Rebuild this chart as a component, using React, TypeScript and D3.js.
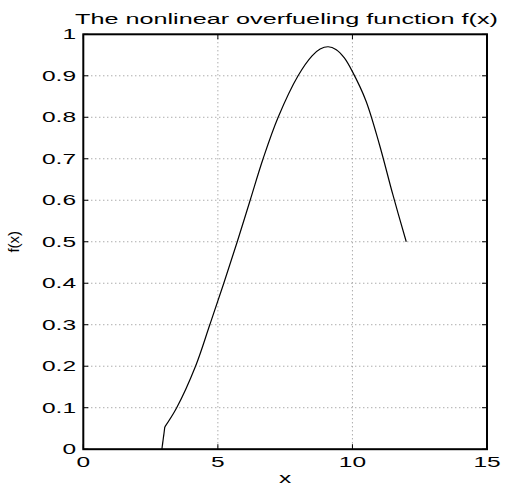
import React from "react";
import * as d3 from "d3";

const xValues = [2.92, 3.03, 3.47, 4.17, 4.7, 5.22, 5.72, 6.2, 6.68, 7.24, 7.98, 8.5, 8.8, 9.1, 9.4, 9.7, 10.0, 10.5, 11.0, 11.5, 12.0];
const fValues = [0, 0.054, 0.1, 0.2, 0.3, 0.4, 0.5, 0.6, 0.7, 0.8, 0.9, 0.948, 0.9645, 0.97, 0.963, 0.943, 0.91, 0.84, 0.735, 0.614, 0.5];
const xTicks = [0, 5, 10, 15];
const yTicks = [0, 0.1, 0.2, 0.3, 0.4, 0.5, 0.6, 0.7, 0.8, 0.9, 1];
const yTickLabels = ["0", "0.1", "0.2", "0.3", "0.4", "0.5", "0.6", "0.7", "0.8", "0.9", "1"];
const title = "The nonlinear overfueling function f(x)";
const xLabel = "x";
const yLabel = "f(x)";

const W = 506;
const H = 489;
const L = 83.3;
const R = 487;
const T = 34.3;
const B = 449.2;
const FONT = "'Liberation Sans', Arial, Helvetica, sans-serif";
const SX = 1.75;

export default function App() {
  const x = d3.scaleLinear().domain([0, 15]).range([L, R]);
  const y = d3.scaleLinear().domain([0, 1]).range([B, T]);
  const pts = xValues.map((v, i) => [v, fValues[i]] as [number, number]);
  const lineLin = d3.line<[number, number]>().x((d) => x(d[0])).y((d) => y(d[1]));
  const lineSmooth = d3
    .line<[number, number]>()
    .x((d) => x(d[0]))
    .y((d) => y(d[1]))
    .curve(d3.curveCatmullRom.alpha(0.5));
  const tickLen = 5;

  return (
    <svg
      width={W}
      height={H}
      style={{ position: "absolute", left: 0, top: 0, display: "block", background: "#fff" }}
    >
      <rect x={0} y={0} width={W} height={H} fill="#fff" />
      {xTicks
        .filter((t) => t > 0 && t < 15)
        .map((t) => (
          <line
            key={"gx" + t}
            x1={x(t)}
            x2={x(t)}
            y1={T}
            y2={B}
            stroke="#888"
            strokeWidth={1}
            strokeDasharray="1 3"
          />
        ))}
      {yTicks
        .filter((t) => t > 0 && t < 1)
        .map((t) => (
          <line
            key={"gy" + t}
            x1={L}
            x2={R}
            y1={y(t)}
            y2={y(t)}
            stroke="#888"
            strokeWidth={1}
            strokeDasharray="1 3"
          />
        ))}
      {xTicks.map((t) => (
        <g key={"tx" + t}>
          <line x1={x(t)} x2={x(t)} y1={B} y2={B - tickLen} stroke="#000" />
          <line x1={x(t)} x2={x(t)} y1={T} y2={T + tickLen} stroke="#000" />
        </g>
      ))}
      {yTicks.map((t) => (
        <g key={"ty" + t}>
          <line x1={L} x2={L + tickLen} y1={y(t)} y2={y(t)} stroke="#000" />
          <line x1={R} x2={R - tickLen} y1={y(t)} y2={y(t)} stroke="#000" />
        </g>
      ))}
      <path d={lineLin(pts.slice(0, 2)) || ""} fill="none" stroke="#000" strokeWidth={1.2} />
      <path d={lineSmooth(pts.slice(1)) || ""} fill="none" stroke="#000" strokeWidth={1.2} />
      <rect x={L} y={T} width={R - L} height={B - T} fill="none" stroke="#000" strokeWidth={2} />
      {xTicks.map((t) => (
        <text
          key={"lx" + t}
          transform={`translate(${x(t)},${467}) scale(${SX},1)`}
          textAnchor="middle"
          fontFamily={FONT}
          fontSize={14}
          fill="#000"
        >
          {String(t)}
        </text>
      ))}
      {yTicks.map((t, i) => (
        <text
          key={"ly" + t}
          transform={`translate(${76},${y(t) + 5}) scale(${SX},1)`}
          textAnchor="end"
          fontFamily={FONT}
          fontSize={14}
          fill="#000"
        >
          {yTickLabels[i]}
        </text>
      ))}
      <text
        x={75}
        y={23.5}
        textLength={423}
        lengthAdjust="spacingAndGlyphs"
        fontFamily={FONT}
        fontSize={14}
        fill="#000"
      >
        {title}
      </text>
      <text
        transform={`translate(${(L + R) / 2},${483}) scale(${SX},1)`}
        textAnchor="middle"
        fontFamily={FONT}
        fontSize={14}
        fill="#000"
      >
        {xLabel}
      </text>
      <text
        transform={`translate(${19},${(T + B) / 2}) rotate(-90)`}
        textAnchor="middle"
        fontFamily={FONT}
        fontSize={15}
        fill="#000"
      >
        {yLabel}
      </text>
    </svg>
  );
}
